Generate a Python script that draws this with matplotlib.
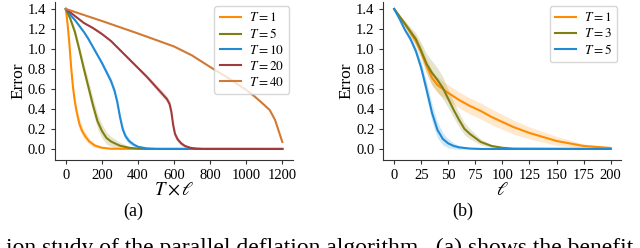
"""Error curves of the parallel deflation study (two panels)."""
import matplotlib
matplotlib.use("Agg")
import matplotlib.pyplot as plt
import numpy as np

plt.rcParams["font.family"] = ["Liberation Serif", "DejaVu Serif"]
plt.rcParams["mathtext.fontset"] = "stix"
plt.rcParams["font.size"] = 10.5

# ---- panel (a): error vs T x l ----
a_labels = ["$T = 1$", "$T = 5$", "$T = 10$", "$T = 20$", "$T = 40$"]
a_colors = ["#ff8c00", "#808012", "#1f8ad6", "#a23a3b", "#d17a36"]

a_x1 = [0, 10, 20, 30, 40, 50, 60, 75, 90, 110, 130, 160, 200, 250, 1200]
a_y1 = [1.40, 1.24, 1.04, 0.80, 0.61, 0.47, 0.37, 0.25, 0.18, 0.12, 0.075, 0.035, 0.012, 0.002, 0.0]
a_s1 = [0.0, 0.02, 0.04, 0.05, 0.06, 0.06, 0.06, 0.055, 0.05, 0.04, 0.03, 0.02, 0.008, 0.0, 0.0]

a_x5 = [0, 25, 50, 75, 100, 125, 150, 175, 200, 225, 250, 300, 350, 400, 450, 1200]
a_y5 = [1.40, 1.30, 1.17, 0.99, 0.80, 0.62, 0.44, 0.28, 0.18, 0.11, 0.075, 0.032, 0.012, 0.003, 0.0, 0.0]
a_s5 = [0.0, 0.02, 0.04, 0.05, 0.06, 0.07, 0.075, 0.075, 0.07, 0.06, 0.05, 0.035, 0.015, 0.005, 0.0, 0.0]

a_x10 = [0, 25, 50, 75, 100, 125, 150, 175, 200, 225, 250, 270, 285, 300, 315, 330, 350, 375, 400, 450, 500, 1200]
a_y10 = [1.40, 1.34, 1.29, 1.23, 1.17, 1.10, 1.02, 0.94, 0.86, 0.77, 0.68, 0.58, 0.47, 0.32, 0.20, 0.13, 0.08, 0.045, 0.022, 0.005, 0.0, 0.0]
a_s10 = [0.0, 0.01, 0.01, 0.015, 0.015, 0.02, 0.02, 0.02, 0.025, 0.03, 0.035, 0.04, 0.045, 0.045, 0.04, 0.035, 0.03, 0.02, 0.012, 0.005, 0.0, 0.0]

a_x20 = [0, 50, 100, 150, 200, 250, 300, 350, 400, 450, 500, 530, 560, 575, 585, 595, 605, 620, 640, 660, 690, 720, 760, 1200]
a_y20 = [1.40, 1.33, 1.26, 1.21, 1.15, 1.08, 0.99, 0.90, 0.81, 0.72, 0.62, 0.56, 0.50, 0.45, 0.37, 0.24, 0.15, 0.095, 0.055, 0.03, 0.012, 0.004, 0.0, 0.0]
a_s20 = [0.0, 0.005, 0.005, 0.01, 0.01, 0.01, 0.01, 0.015, 0.015, 0.02, 0.025, 0.03, 0.03, 0.035, 0.035, 0.035, 0.03, 0.025, 0.02, 0.015, 0.008, 0.003, 0.0, 0.0]

a_x40 = [0, 200, 400, 600, 700, 800, 900, 1000, 1050, 1100, 1130, 1160, 1180, 1200]
a_y40 = [1.40, 1.28, 1.155, 1.025, 0.935, 0.82, 0.71, 0.59, 0.52, 0.44, 0.39, 0.29, 0.18, 0.07]
a_s40 = [0.0, 0.005, 0.005, 0.008, 0.008, 0.01, 0.01, 0.01, 0.01, 0.01, 0.01, 0.01, 0.01, 0.01]

# ---- panel (b): error vs l ----
b_labels = ["$T = 1$", "$T = 3$", "$T = 5$"]
b_colors = ["#ff8c00", "#808012", "#1f8ad6"]

b_x1 = [0, 10, 20, 25, 30, 35, 40, 50, 60, 70, 80, 90, 100, 110, 125, 150, 175, 200]
b_y1 = [1.40, 1.25, 1.08, 0.97, 0.83, 0.71, 0.64, 0.56, 0.49, 0.43, 0.38, 0.32, 0.27, 0.22, 0.16, 0.08, 0.03, 0.01]
b_s1 = [0.0, 0.03, 0.05, 0.06, 0.07, 0.075, 0.08, 0.08, 0.08, 0.08, 0.08, 0.078, 0.075, 0.07, 0.06, 0.045, 0.02, 0.01]

b_x3 = [0, 10, 20, 25, 30, 35, 40, 45, 50, 55, 60, 65, 70, 80, 90, 100, 110, 200]
b_y3 = [1.40, 1.25, 1.10, 0.98, 0.85, 0.76, 0.69, 0.61, 0.50, 0.39, 0.29, 0.20, 0.15, 0.07, 0.03, 0.012, 0.003, 0.0]
b_s3 = [0.0, 0.03, 0.06, 0.08, 0.10, 0.12, 0.12, 0.11, 0.09, 0.08, 0.07, 0.06, 0.05, 0.03, 0.015, 0.005, 0.0, 0.0]

b_x5 = [0, 5, 10, 15, 20, 25, 30, 35, 40, 45, 50, 55, 60, 70, 80, 200]
b_y5 = [1.40, 1.30, 1.19, 1.10, 0.98, 0.81, 0.59, 0.36, 0.19, 0.10, 0.055, 0.03, 0.016, 0.004, 0.0, 0.0]
b_s5 = [0.0, 0.01, 0.02, 0.03, 0.04, 0.06, 0.08, 0.09, 0.08, 0.06, 0.045, 0.03, 0.02, 0.005, 0.0, 0.0]

caption = "ion study of the parallel deflation algorithm.  (a) shows the benefit"


def draw(ax, series, labels, colors):
    for (x, y, s), label, color in zip(series, labels, colors):
        x, y, s = np.array(x), np.array(y), np.array(s)
        ax.fill_between(x, y - s, y + s, color=color, alpha=0.2, linewidth=0)
        ax.plot(x, y, color=color, linewidth=1.5, label=label)
    ax.set_ylabel("Error", fontsize=12.5, labelpad=1)
    ax.set_yticks(np.arange(0, 1.41, 0.2))
    ax.set_ylim(-0.11, 1.47)
    for side in ("top", "right"):
        ax.spines[side].set_visible(False)
    for side in ("left", "bottom"):
        ax.spines[side].set_color("#333333")
        ax.spines[side].set_linewidth(0.8)
    ax.tick_params(length=3, width=0.8, color="#333333", labelsize=10.5)
    ax.legend(loc="upper right", fontsize=9.5, handlelength=1.6,
              labelspacing=0.22, borderpad=0.4, handletextpad=0.6,
              borderaxespad=0.3)


fig = plt.figure(figsize=(6.4, 2.48), dpi=100)
ax_a = fig.add_axes([0.086, 0.355, 0.372, 0.637])
ax_b = fig.add_axes([0.599, 0.355, 0.372, 0.637])

draw(ax_a,
     [(a_x1, a_y1, a_s1), (a_x5, a_y5, a_s5), (a_x10, a_y10, a_s10),
      (a_x20, a_y20, a_s20), (a_x40, a_y40, a_s40)],
     a_labels, a_colors)
ax_a.set_xlim(-60, 1260)
ax_a.set_xticks(np.arange(0, 1201, 200))
ax_a.set_xlabel(r"$T \times \ell$", fontsize=13.5, labelpad=0)

draw(ax_b, [(b_x1, b_y1, b_s1), (b_x3, b_y3, b_s3), (b_x5, b_y5, b_s5)],
     b_labels, b_colors)
ax_b.set_xlim(-10, 210)
ax_b.set_xticks(np.arange(0, 201, 25))
ax_b.set_xlabel(r"$\ell$", fontsize=13.5, labelpad=0)

fig.text(133 / 640, 1 - 211 / 248, "(a)", ha="center", va="center", fontsize=13)
fig.text(463 / 640, 1 - 211 / 248, "(b)", ha="center", va="center", fontsize=13)
fig.text(0.5, 1 - 254 / 248, caption, ha="center", va="baseline", fontsize=17)

fig.savefig("out.png", dpi=100)
